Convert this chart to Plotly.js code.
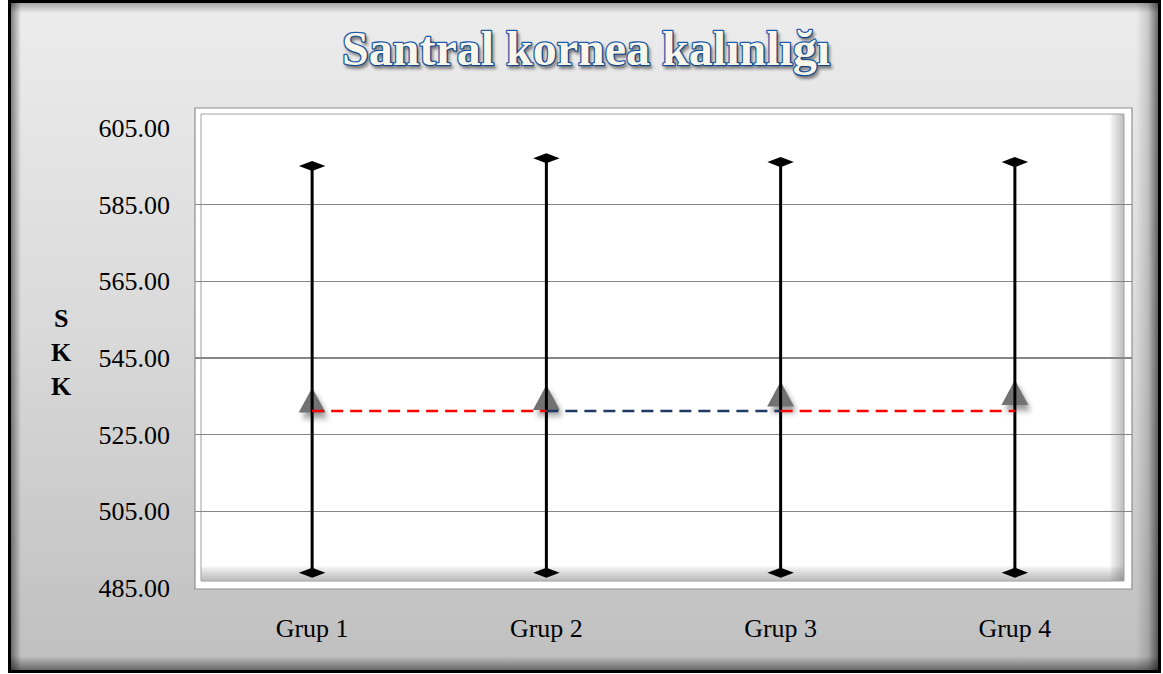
<!DOCTYPE html>
<html>
<head>
<meta charset="utf-8">
<script src="https://cdn.plot.ly/plotly-3.0.1.min.js"></script>
<style>
html,body{margin:0;padding:0;background:#fff;}
#wrap{position:relative;width:1163px;height:674px;overflow:hidden;}
#bg{position:absolute;left:8px;top:0;width:1153px;height:673px;box-sizing:border-box;border:3px solid #000;
  background:linear-gradient(to bottom,#ececec 0%,#d9d9d9 50%,#bfbfbf 100%);overflow:hidden;}
.sh{position:absolute;}
#shL{left:0;top:0;bottom:0;width:10px;background:linear-gradient(to right,rgba(0,0,0,.45),rgba(0,0,0,0));}
#shT{left:0;right:0;top:0;height:10px;background:linear-gradient(to bottom,rgba(0,0,0,.3),rgba(0,0,0,0));}
#shR{right:0;top:0;bottom:0;width:22px;background:linear-gradient(to left,rgba(0,0,0,.55),rgba(0,0,0,.15) 45%,rgba(0,0,0,0));}
#shB{left:0;right:0;bottom:0;height:14px;background:linear-gradient(to top,rgba(0,0,0,.45),rgba(0,0,0,0));}
#chart{position:absolute;left:0;top:0;width:1163px;height:674px;}
</style>
</head>
<body>
<div id="wrap">
  <div id="bg"><div class="sh" id="shL"></div><div class="sh" id="shT"></div><div class="sh" id="shR"></div><div class="sh" id="shB"></div></div>
  <div id="chart"></div>
</div>
<script>
// ---- data ----
const categories = ['Grup 1', 'Grup 2', 'Grup 3', 'Grup 4'];
const maxVals  = [595.1, 597.1, 596.1, 596.1];
const minVals  = [489.0, 489.0, 489.0, 489.0];
const meanVals = [534.0, 534.7, 535.6, 536.0];
const refVals  = [531.2, 531.2, 531.2, 531.2];
const segColors = ['#ff0000', '#1f3864', '#ff0000'];
const titleText = 'Santral kornea kalınlığı';
const yTitleText = '<b>S</b><br><b>K</b><br><b>K</b>';

// ---- helpers for decorative frame (pixel -> paper) ----
const PL = 195, PW = 937, PB = 588, PH = 460;
const fx = px => (px - PL) / PW;
const fy = py => (PB - py) / PH;

const shapes = [];
shapes.push({type:'rect', xref:'paper', yref:'paper', layer:'below',
  x0:fx(195), x1:fx(1132), y0:fy(589), y1:fy(108),
  fillcolor:'#ffffff', line:{color:'#8f8f8f', width:1.2}});
for (let i = 0; i < 7; i++) {
  shapes.push({type:'rect', xref:'paper', yref:'paper', layer:'below',
    x0:fx(201), x1:fx(1124), y0:fy(581), y1:fy(566 + 2*i),
    fillcolor:'rgba(90,90,90,0.06)', line:{width:0}});
  shapes.push({type:'rect', xref:'paper', yref:'paper', layer:'below',
    x0:fx(1110 + 2*i), x1:fx(1124), y0:fy(581), y1:fy(114),
    fillcolor:'rgba(90,90,90,0.06)', line:{width:0}});
}
shapes.push({type:'rect', xref:'paper', yref:'paper', layer:'below',
  x0:fx(201), x1:fx(1124), y0:fy(581), y1:fy(114),
  fillcolor:'rgba(0,0,0,0)', line:{color:'#a0a0a0', width:1}});

// ---- traces ----
const data = [];
data.push({type:'scatter', mode:'markers', x:categories, y:meanVals, hoverinfo:'skip',
  marker:{symbol:'triangle-up', size:24, color:'#727272', line:{width:0}}});

const hx = [], hy = [];
categories.forEach((c, i) => { hx.push(c, c, null); hy.push(minVals[i], maxVals[i], null); });
data.push({type:'scatter', mode:'lines+markers', x:hx, y:hy, hoverinfo:'skip', connectgaps:false,
  line:{color:'#000', width:3},
  marker:{symbol:'diamond-wide', size:18, color:'#000', line:{width:0}}});

for (let i = 0; i < categories.length - 1; i++) {
  data.push({type:'scatter', mode:'lines', x:[categories[i], categories[i+1]], y:[refVals[i], refVals[i+1]],
    hoverinfo:'skip', line:{color:segColors[i], width:2.5, dash:'12px,7px'}});
}

const layout = {
  width:1163, height:674,
  margin:{l:195, r:31, t:128, b:86},
  paper_bgcolor:'rgba(0,0,0,0)', plot_bgcolor:'rgba(0,0,0,0)',
  showlegend:false,
  font:{family:'"Liberation Serif", "Times New Roman", serif', size:26, color:'#000'},
  title:{text:titleText, xref:'container', yref:'container', x:0.504, y:0.929,
    xanchor:'center', yanchor:'middle',
    font:{family:'"Liberation Serif", serif', size:48, weight:'bold', color:'#f8f6ea'}},
  xaxis:{type:'category', range:[-0.5, 3.5], showgrid:false, zeroline:false, showline:false,
    ticks:'', ticklabelstandoff:22, fixedrange:true},
  yaxis:{range:[485, 605], tick0:485, dtick:20, tickformat:'.2f', showgrid:true,
    gridcolor:'#868686', gridwidth:1.5, zeroline:false, showline:false, ticks:'',
    ticklabelstandoff:24, fixedrange:true},
  shapes:shapes,
  annotations:[{text:yTitleText, xref:'paper', yref:'paper', x:fx(61), y:fy(352),
    xanchor:'center', yanchor:'middle', showarrow:false, align:'center',
    font:{family:'"Liberation Serif", serif', size:26, color:'#000'}}]
};

Plotly.newPlot('chart', data, layout, {staticPlot:true}).then(gd => {
  const t = gd.querySelector('.gtitle');
  if (t) {
    t.style.stroke = '#1d5bab';
    t.style.strokeWidth = '2.6px';
    t.style.paintOrder = 'stroke';
    t.style.strokeLinejoin = 'round';
    t.style.textShadow = '2px 3px 3px rgba(0,0,0,0.3)';
  }
  const tr = gd.querySelectorAll('.scatterlayer .trace');
  if (tr.length > 1) {
    // taller triangle, centred on its value (Excel-style marker)
    tr[0].querySelectorAll('.point').forEach(p => {
      p.setAttribute('transform', p.getAttribute('transform') + ' scale(0.97,1.38) translate(0,3)');
      p.style.filter = 'drop-shadow(3px 4px 2.5px rgba(0,0,0,0.4))';
    });
    // flatter diamonds
    tr[1].querySelectorAll('.point').forEach(p => {
      p.setAttribute('transform', p.getAttribute('transform') + ' scale(1.05,0.8)');
    });
  }
});
</script>
</body>
</html>
